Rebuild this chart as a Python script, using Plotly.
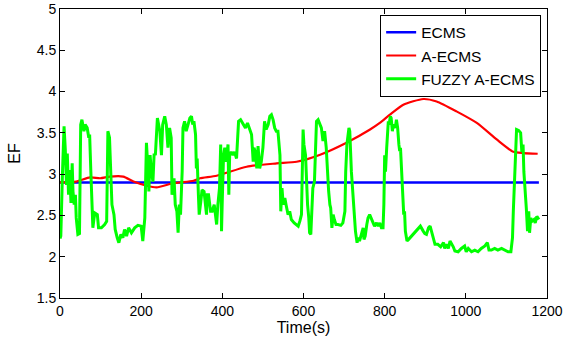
import plotly.graph_objects as go

# ECMS (constant)
ecms_t = [0, 1180]
ecms_v = [2.9, 2.9]

# A-ECMS
aecms_t = [0, 40, 74, 99, 123, 156, 181, 214, 238, 279, 329, 345, 386, 460, 534, 583,
           641, 706, 764, 788, 813, 846, 895, 928, 977, 1027, 1076, 1117, 1142, 1177]
aecms_v = [2.90, 2.91, 2.96, 2.95, 2.97, 2.97, 2.91, 2.86, 2.84, 2.89, 2.92, 2.95, 2.98, 3.09, 3.13, 3.15,
           3.235, 3.38, 3.54, 3.62, 3.72, 3.84, 3.91, 3.88, 3.76, 3.62, 3.42, 3.27, 3.255, 3.247]

# FUZZY A-ECMS
fuzzy_t = [0, 2, 6, 10, 13, 16, 18, 21, 24, 27, 30, 32, 35, 38, 40, 44, 48, 51, 54, 59, 62, 67, 71, 73, 76, 79,
           81, 84, 86, 92, 95, 102, 110, 115, 118, 122, 125, 128, 133, 136, 141, 145, 150, 155, 159, 164, 169,
           176, 184, 192, 200, 204, 209, 213, 217, 219, 222, 225, 229, 232, 235, 240, 246, 250, 253, 258, 262,
           266, 270, 274, 276, 281, 284, 288, 291, 294, 297, 301, 303, 307, 311, 315, 320, 324, 327, 330, 334,
           336, 338, 341, 343, 347, 350, 355, 358, 361, 363, 366, 371, 375, 380, 383, 386, 389, 393, 396, 398,
           400, 403, 406, 410, 414, 416, 418, 422, 426, 430, 435, 437, 440, 445, 451, 457, 462, 467, 472, 476,
           478, 481, 485, 488, 492, 496, 500, 504, 508, 513, 517, 521, 525, 529, 533, 537, 540, 542, 544, 547,
           550, 554, 557, 562, 566, 570, 577, 582, 587, 591, 595, 599, 601, 605, 607, 610, 613, 615, 618, 621,
           623, 627, 629, 632, 636, 640, 644, 648, 652, 656, 659, 662, 665, 667, 670, 673, 676, 680, 685, 692,
           697, 702, 704, 707, 712, 714, 718, 721, 724, 728, 732, 735, 738, 743, 747, 749, 752, 756, 759, 763,
           767, 771, 775, 780, 784, 788, 792, 796, 798, 800, 802, 805, 807, 809, 811, 814, 816, 819, 821, 826,
           829, 832, 835, 837, 839, 842, 845, 847, 849, 851, 855, 859, 866, 874, 882, 888, 895, 899, 903, 908,
           912, 916, 920, 924, 931, 938, 945, 948, 952, 957, 961, 965, 969, 973, 981, 989, 997, 1001, 1006,
           1014, 1022, 1030, 1038, 1047, 1053, 1057, 1063, 1071, 1079, 1088, 1096, 1104, 1111, 1115, 1117,
           1120, 1123, 1125, 1130, 1135, 1138, 1141, 1143, 1147, 1149, 1152, 1155, 1157, 1160, 1163, 1168,
           1171, 1175, 1180]
fuzzy_v = [2.22, 2.25, 3.00, 3.58, 3.30, 2.87, 3.25, 2.75, 3.05, 2.65, 3.13, 2.79, 2.63, 2.75, 2.47, 2.27, 2.28,
           3.60, 3.66, 3.52, 3.60, 3.56, 3.44, 3.48, 3.03, 2.63, 2.35, 2.47, 2.53, 2.51, 2.35, 2.35, 2.39, 2.43,
           3.52, 3.44, 2.91, 2.63, 2.51, 2.33, 2.23, 2.17, 2.27, 2.23, 2.33, 2.25, 2.35, 2.29, 2.35, 2.38, 2.37,
           2.19, 2.47, 3.38, 3.03, 2.79, 3.23, 3.03, 2.91, 3.25, 3.23, 3.68, 3.52, 3.23, 3.60, 3.70, 3.60, 3.32,
           3.56, 3.44, 2.75, 2.95, 2.63, 2.55, 2.29, 2.63, 2.51, 3.03, 3.56, 3.64, 3.52, 3.60, 3.68, 3.70, 3.60,
           3.64, 3.48, 3.07, 3.19, 2.75, 2.51, 2.67, 2.81, 2.79, 2.63, 2.51, 2.75, 2.75, 2.55, 2.55, 2.63, 2.47,
           2.39, 2.63, 2.83, 3.36, 2.31, 2.71, 3.23, 3.32, 3.15, 3.36, 2.75, 3.23, 3.27, 3.23, 3.27, 3.19, 3.44,
           3.64, 3.66, 3.60, 3.56, 3.62, 3.54, 3.48, 3.15, 3.32, 3.27, 3.07, 3.34, 3.07, 3.15, 3.32, 3.64, 3.54,
           3.60, 3.70, 3.72, 3.66, 3.56, 3.52, 3.52, 3.32, 3.23, 2.55, 2.83, 2.63, 2.71, 2.63, 2.51, 2.55, 2.45,
           2.41, 2.39, 2.37, 2.43, 2.51, 3.54, 3.36, 3.23, 2.95, 2.63, 2.47, 2.29, 2.27, 2.63, 2.83, 2.91, 3.23,
           3.64, 3.66, 3.60, 3.56, 3.40, 3.52, 3.32, 2.95, 2.79, 2.63, 2.59, 2.35, 2.51, 2.45, 2.39, 2.39, 2.38,
           2.41, 2.55, 3.03, 3.36, 3.56, 3.52, 3.03, 2.83, 2.51, 2.31, 2.17, 2.23, 2.19, 2.27, 2.35, 2.21, 2.25,
           2.39, 2.47, 2.51, 2.47, 2.43, 2.37, 2.41, 2.37, 2.41, 2.35, 2.35, 2.63, 3.23, 3.03, 3.32, 3.52, 3.64,
           3.60, 3.70, 3.68, 3.52, 3.60, 3.56, 3.66, 3.56, 3.36, 3.28, 3.32, 2.91, 2.71, 2.51, 2.55, 2.31, 2.19,
           2.21, 2.25, 2.29, 2.33, 2.37, 2.31, 2.28, 2.27, 2.35, 2.37, 2.29, 2.22, 2.15, 2.15, 2.12, 2.17, 2.10,
           2.15, 2.10, 2.19, 2.16, 2.12, 2.07, 2.06, 2.10, 2.13, 2.06, 2.10, 2.06, 2.08, 2.06, 2.10, 2.13, 2.17,
           2.08, 2.08, 2.10, 2.08, 2.10, 2.08, 2.06, 2.06, 2.23, 2.55, 3.03, 3.48, 3.54, 3.53, 3.50, 3.27, 3.36,
           3.03, 2.79, 2.59, 2.31, 2.55, 2.29, 2.47, 2.43, 2.45, 2.41, 2.49, 2.45]

x_ticks = [0, 200, 400, 600, 800, 1000, 1200]
y_ticks = [1.5, 2, 2.5, 3, 3.5, 4, 4.5, 5]

FONT = "Liberation Sans, Arial, Helvetica, sans-serif"

fig = go.Figure()
fig.add_trace(go.Scatter(x=ecms_t, y=ecms_v, mode="lines", name="ECMS",
                         line=dict(color="#0000ff", width=2.5)))
fig.add_trace(go.Scatter(x=aecms_t, y=aecms_v, mode="lines", name="A-ECMS",
                         line=dict(color="#ff0000", width=2.2, shape="spline", smoothing=0.6)))
fig.add_trace(go.Scatter(x=fuzzy_t, y=fuzzy_v, mode="lines", name="FUZZY A-ECMS",
                         line=dict(color="#00ff00", width=3)))

axis_common = dict(showgrid=False, zeroline=False, showline=True, linecolor="black", linewidth=1,
                   mirror="ticks", ticks="inside", ticklen=5, tickcolor="black",
                   tickfont=dict(family=FONT, size=14, color="black"))

fig.update_layout(
    width=574, height=341,
    margin=dict(l=60, r=27, t=9, b=43, autoexpand=False),
    paper_bgcolor="white", plot_bgcolor="white",
    font=dict(family=FONT, color="black"),
    xaxis=dict(range=[0, 1200], tickvals=x_ticks, ticktext=[str(v) for v in x_ticks],
               title=dict(text="Time(s)", font=dict(size=16), standoff=1), **axis_common),
    yaxis=dict(range=[1.5, 5], tickvals=y_ticks, ticktext=[f"{v:g}" for v in y_ticks],
               title=dict(text="EF", font=dict(size=16), standoff=12), **axis_common),
    legend=dict(x=0.988, y=0.98, xanchor="right", yanchor="top",
                bgcolor="white", bordercolor="black", borderwidth=1,
                font=dict(family=FONT, size=15.5, color="black"),
                tracegroupgap=0, itemwidth=30),
    showlegend=True,
)

fig.write_html("out.html", config={"displayModeBar": False},
               post_script="document.body.style.margin='0px';document.body.style.overflow='hidden';")
